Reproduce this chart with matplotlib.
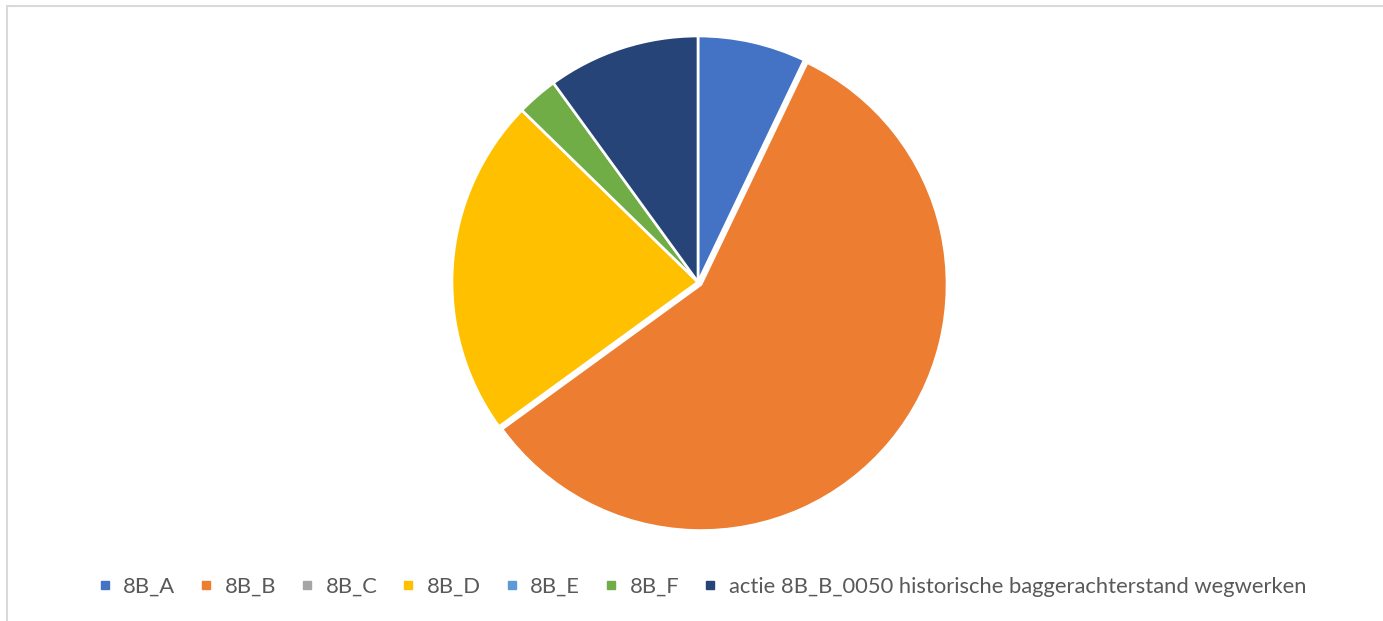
import matplotlib
matplotlib.use("Agg")
import matplotlib.pyplot as plt
from matplotlib.lines import Line2D
from matplotlib.patches import Rectangle

# Share per category (percent)
categories = ["8B_A", "8B_B", "8B_C", "8B_D", "8B_E", "8B_F",
              "actie 8B_B_0050 historische baggerachterstand wegwerken"]
shares = [7.1, 57.9, 0.0, 22.3, 0.0, 2.7, 10.0]
colors = ["#4472C4", "#ED7D31", "#A5A5A5", "#FFC000", "#5B9BD5", "#70AD47", "#264478"]
explode = [0, 0.016, 0, 0, 0, 0, 0]

W, H = 1383, 621
fig = plt.figure(figsize=(W / 100, H / 100), dpi=100)
fig.patch.set_facecolor("white")

# light chart frame
fig.add_artist(Rectangle((6.5 / W, -0.1), 1.2, 1 - 5.5 / H + 0.1,
                         transform=fig.transFigure, fill=False,
                         edgecolor="#D9D9D9", linewidth=1.5))

cx, cy, R = 698, 282, 246
ax = fig.add_axes([(cx - R) / W, (H - cy - R) / H, 2 * R / W, 2 * R / H])
ax.pie(shares, colors=colors, startangle=90, counterclock=False,
       explode=explode, radius=1.0,
       wedgeprops=dict(edgecolor="white", linewidth=1.9))
ax.set_xlim(-1, 1)
ax.set_ylim(-1, 1)
ax.set_aspect("equal")
ax.axis("off")
for p in ax.patches:
    p.set_clip_on(False)

handles = [Line2D([], [], marker="s", linestyle="none", markersize=5.5,
                  markerfacecolor=c, markeredgecolor=c) for c in colors]
leg = fig.legend(handles, categories, loc="center", ncol=7,
                 bbox_to_anchor=(703 / W, 1 - 587 / H), frameon=False,
                 handlelength=0.45, handletextpad=0.62, columnspacing=1.18,
                 prop=dict(family="Lato", size=15.8))
for t in leg.get_texts():
    t.set_color("#595959")

fig.savefig("out.png", dpi=100, facecolor="white")
